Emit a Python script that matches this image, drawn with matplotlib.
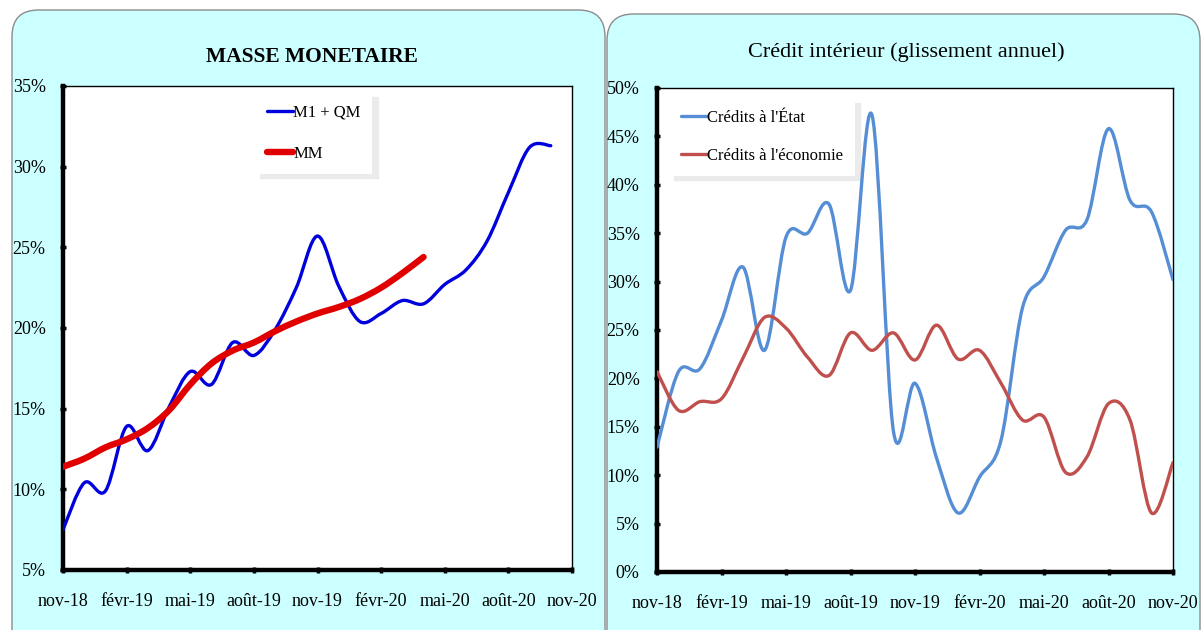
import matplotlib
matplotlib.use("Agg")
import matplotlib.pyplot as plt
import numpy as np
from matplotlib.path import Path
from matplotlib.patches import PathPatch, FancyBboxPatch
from matplotlib.lines import Line2D
from matplotlib.ticker import FuncFormatter

plt.rcParams['font.family'] = ['Liberation Serif', 'DejaVu Serif']

# monthly data, nov-18 .. nov-20 (index 0..24)
tick_labels = ["nov-18", "févr-19", "mai-19", "août-19", "nov-19",
               "févr-20", "mai-20", "août-20", "nov-20"]

# Masse monétaire (%), nov-18 .. oct-20
m1_qm = [7.5, 10.4, 9.9, 13.9, 12.4, 15.1, 17.3, 16.5, 19.1, 18.3, 19.9,
         22.5, 25.7, 22.6, 20.4, 20.9, 21.7, 21.5, 22.7, 23.6, 25.4, 28.4,
         31.2, 31.3]
# MM, nov-18 .. avr-20
mm = [11.4, 11.9, 12.6, 13.1, 13.8, 14.9, 16.5, 17.8, 18.6, 19.1, 19.8,
      20.4, 20.9, 21.3, 21.8, 22.5, 23.4, 24.4]

# Crédit intérieur (%), nov-18 .. nov-20
credit_etat = [12.9, 20.7, 21.0, 26.0, 31.5, 22.9, 34.6, 35.0, 38.0, 29.1,
               47.2, 14.5, 19.5, 11.8, 6.1, 9.8, 13.6, 27.3, 30.5, 35.3,
               36.4, 45.8, 38.4, 37.2, 30.2]
credit_eco = [20.7, 16.7, 17.6, 17.9, 22.1, 26.3, 25.2, 22.2, 20.3, 24.7,
              22.9, 24.7, 21.9, 25.5, 22.0, 22.9, 19.5, 15.7, 16.0, 10.3,
              11.9, 17.4, 15.7, 6.1, 11.3]


def smooth_path(y):
    "Excel-like smoothed line: cubic bezier through every point"
    x = np.arange(len(y), dtype=float)
    y = np.asarray(y, dtype=float)
    pts = np.column_stack([x, y])
    ext = np.vstack([pts[0], pts, pts[-1]])
    verts = [pts[0]]
    codes = [Path.MOVETO]
    for i in range(len(pts) - 1):
        p0, p1, p2, p3 = ext[i], ext[i + 1], ext[i + 2], ext[i + 3]
        c1 = p1 + (p2 - p0) / 6.0
        c2 = p2 - (p3 - p1) / 6.0
        verts += [c1, c2, p2]
        codes += [Path.CURVE4] * 3
    return Path(verts, codes)


def add_line(ax, y, color, lw):
    patch = PathPatch(smooth_path(y), fill=False, edgecolor=color, lw=lw,
                      capstyle='round', joinstyle='round', zorder=3)
    ax.add_patch(patch)
    return Line2D([], [], color=color, lw=lw, solid_capstyle='round')


def style_axes(ax, ymin, ymax, ystep):
    ax.set_zorder(2)
    ax.set_xlim(0, 24)
    ax.set_ylim(ymin, ymax)
    ax.set_xticks(np.arange(0, 25, 3))
    ax.set_xticklabels(tick_labels)
    ax.set_yticks(np.arange(ymin, ymax + 0.1, ystep))
    ax.yaxis.set_major_formatter(FuncFormatter(lambda v, p: f"{v:.0f}%"))
    ax.set_facecolor('white')
    for side in ['left', 'bottom']:
        ax.spines[side].set_linewidth(3.2)
    for side in ['top', 'right']:
        ax.spines[side].set_linewidth(1.0)
    ax.tick_params(axis='both', direction='inout', length=5, width=2.5,
                   labelsize=13, colors='black')
    ax.tick_params(axis='x', pad=14)
    ax.tick_params(axis='y', pad=10)


def add_legend(ax, handles, labels, x0, ytop, spacing):
    leg = ax.legend(handles, labels, loc='upper left',
                    bbox_to_anchor=(x0, ytop), borderaxespad=0, fontsize=12,
                    frameon=True, facecolor='white', edgecolor='none',
                    framealpha=1, handlelength=1.6, handletextpad=0.0,
                    labelspacing=spacing, borderpad=0.7, fancybox=False,
                    shadow={'ox': 4, 'oy': -3, 'color': '0.92', 'alpha': 1})
    leg.set_zorder(1)
    return leg


W, H = 1202, 630
fig = plt.figure(figsize=(W / 100, H / 100), dpi=100)

# rounded cyan panels
for x0, y0, x1 in [(12, 10, 605), (607, 14, 1200)]:
    box = FancyBboxPatch((x0 / W, -0.05), (x1 - x0) / W, 1.05 - y0 / H,
                         boxstyle="round,pad=0,rounding_size=0.022",
                         mutation_aspect=W / H, transform=fig.transFigure,
                         facecolor='#ccffff', edgecolor='#8c8c8c', lw=1.0,
                         zorder=-1)
    fig.patches.append(box)

# left chart
ax1 = fig.add_axes([63 / W, 1 - 570 / H, 509 / W, 484 / H])
style_axes(ax1, 5, 35, 5)
h1 = add_line(ax1, m1_qm, '#0000dd', 2.4)
h2 = add_line(ax1, mm, '#e00000', 4.6)
fig.text(312 / W, 1 - 57 / H, "MASSE MONETAIRE", ha='center', va='center',
         fontsize=15.5, fontweight='bold')
add_legend(ax1, [h1, h2], ["M1 + QM", "MM"], 0.377, 0.985, 1.5)

# right chart
ax2 = fig.add_axes([657 / W, 1 - 572 / H, 516 / W, 484 / H])
style_axes(ax2, 0, 50, 5)
h3 = add_line(ax2, credit_etat, '#558ed5', 2.4)
h4 = add_line(ax2, credit_eco, '#c0504d', 2.4)
fig.text(906 / W, 1 - 52 / H, "Crédit intérieur (glissement annuel)",
         ha='center', va='center', fontsize=16)
add_legend(ax2, [h3, h4], ["Crédits à l'État", "Crédits à l'économie"],
           0.023, 0.978, 1.3)

fig.savefig("out.png", dpi=100)
